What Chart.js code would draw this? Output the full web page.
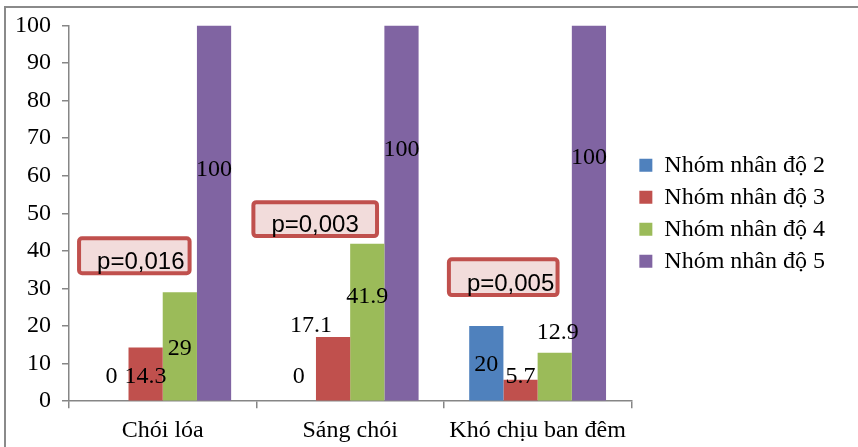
<!DOCTYPE html>
<html>
<head>
<meta charset="utf-8">
<script src="https://cdn.jsdelivr.net/npm/chart.js@4/dist/chart.umd.min.js"></script>
<style>
  html, body { margin: 0; padding: 0; background: #fff; overflow: hidden; }
  #wrap { position: relative; width: 858px; height: 447px; overflow: hidden; }
  #frame { position: absolute; left: 4px; top: 6px; width: 1000px; height: 1000px;
           border-left: 2px solid #8a8a8a; border-top: 2px solid #8a8a8a; pointer-events: none; }
  canvas { position: absolute; left: 0; top: 0; }
</style>
</head>
<body>
<div id="wrap">
  <canvas id="c" width="858" height="460"></canvas>
  <div id="frame"></div>
</div>
<script>
// ---- data ----
const categories = ['Chói lóa', 'Sáng chói', 'Khó chịu ban đêm'];
const seriesNames = ['Nhóm nhân độ 2', 'Nhóm nhân độ 3', 'Nhóm nhân độ 4', 'Nhóm nhân độ 5'];
const group2 = [0, 0, 20];
const group3 = [14.3, 17.1, 5.7];
const group4 = [29, 41.9, 12.9];
const group5 = [100, 100, 100];
const pValues = ['p=0,016', 'p=0,003', 'p=0,005'];
const yTicks = [0, 10, 20, 30, 40, 50, 60, 70, 80, 90, 100];

// ---- styling / layout (not data) ----
const colors = ['#4f81bd', '#c0504d', '#9bbb59', '#8064a2'];
const serif = '"Liberation Serif", "Times New Roman", serif';
// data-label anchors: y in axis units, dx in px, per series/category
const labelLayout = [
  [{y: 6.4, dx: 0}, {y: 6.4, dx: 0}, {y: 9.6, dx: 0}],
  [{y: 6.4, dx: 0}, {y: 20.2, dx: -22}, {y: 6.4, dx: 0}],
  [{y: 14.1, dx: 0}, {y: 27.9, dx: 0}, {y: 18.1, dx: 3}],
  [{y: 61.7, dx: 0}, {y: 66.8, dx: 0}, {y: 64.9, dx: 0}]
];
// p-value boxes in category-index / axis units
const boxLayout = [
  {x0: -0.457, x1: 0.154, y0: 43.9, y1: 33.5},
  {x0: 0.473, x1: 1.154, y0: 53.5, y1: 43.4},
  {x0: 1.516, x1: 2.117, y0: 38.3, y1: 27.7}
];

const seriesValues = [group2, group3, group4, group5];

const labelPlugin = {
  id: 'valueLabels',
  afterDatasetsDraw(chart) {
    const ctx = chart.ctx;
    const ys = chart.scales.y;
    ctx.save();
    ctx.font = '24px ' + serif;
    ctx.fillStyle = '#000';
    ctx.textAlign = 'center';
    ctx.textBaseline = 'middle';
    chart.data.datasets.forEach((ds, di) => {
      const meta = chart.getDatasetMeta(di);
      meta.data.forEach((bar, i) => {
        const L = labelLayout[di][i];
        ctx.fillText(String(ds.data[i]), bar.x + L.dx, ys.getPixelForValue(L.y));
      });
    });
    ctx.restore();
  }
};

const boxPlugin = {
  id: 'pBoxes',
  afterDatasetsDraw(chart) {
    const ctx = chart.ctx;
    const xs = chart.scales.x, ys = chart.scales.y;
    ctx.save();
    boxLayout.forEach((b, i) => {
      const x0 = xs.getPixelForValue(b.x0), x1 = xs.getPixelForValue(b.x1);
      const y0 = ys.getPixelForValue(b.y0), y1 = ys.getPixelForValue(b.y1);
      ctx.beginPath();
      ctx.roundRect(x0 + 2, y0 + 2, x1 - x0 - 4, y1 - y0 - 4, 3);
      ctx.fillStyle = '#f2dcdb';
      ctx.fill();
      ctx.lineWidth = 4;
      ctx.strokeStyle = '#c0504d';
      ctx.stroke();
      ctx.font = '24px "Liberation Sans", Arial, sans-serif';
      ctx.fillStyle = '#000';
      ctx.textAlign = 'left';
      ctx.textBaseline = 'middle';
      ctx.fillText(pValues[i], x0 + 20, y1 - 13);
    });
    ctx.restore();
  }
};

new Chart(document.getElementById('c'), {
  type: 'bar',
  data: {
    labels: categories,
    datasets: seriesNames.map((n, k) => ({
      label: n,
      data: seriesValues[k],
      backgroundColor: colors[k],
      borderWidth: 0,
      categoryPercentage: 0.73,
      barPercentage: 1.0
    }))
  },
  options: {
    responsive: false,
    animation: false,
    events: [],
    layout: { padding: { left: 4, top: 10, right: 23, bottom: 7 } },
    plugins: {
      legend: {
        position: 'right',
        align: 'center',
        fullSize: false,
        labels: {
          font: { family: serif, size: 24 },
          color: '#000',
          boxWidth: 13,
          boxHeight: 13,
          padding: 8
        }
      },
      tooltip: { enabled: false },
      title: { display: false }
    },
    scales: {
      x: {
        grid: { display: true, offset: true, drawOnChartArea: false, drawTicks: true, tickLength: 7, color: '#868686', lineWidth: 1.5 },
        border: { display: true, color: '#868686', width: 1.5 },
        ticks: { font: { family: serif, size: 24 }, color: '#000', padding: 8, maxRotation: 0 }
      },
      y: {
        min: 0, max: 100,
        afterBuildTicks(scale) { scale.ticks = yTicks.map(v => ({ value: v })); },
        grid: { display: true, drawOnChartArea: false, drawTicks: true, tickLength: 7, color: '#868686', lineWidth: 1.5 },
        border: { display: true, color: '#868686', width: 1.5 },
        ticks: { font: { family: serif, size: 24 }, color: '#000', padding: 11 }
      }
    }
  },
  plugins: [labelPlugin, boxPlugin]
});
</script>
</body>
</html>
